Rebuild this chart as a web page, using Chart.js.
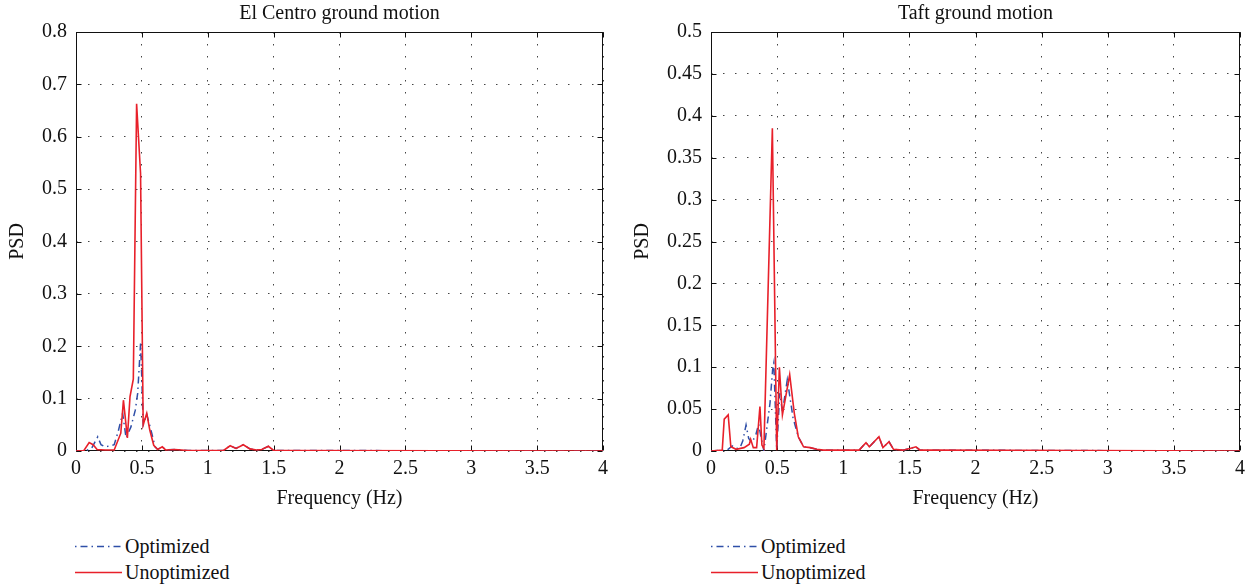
<!DOCTYPE html>
<html>
<head>
<meta charset="utf-8">
<script src="https://cdn.jsdelivr.net/npm/chart.js@4/dist/chart.umd.min.js"></script>
<style>
    body { margin: 0; background: #fff; width: 1254px; height: 588px; position: relative; overflow: hidden;
           font-family: 'Liberation Serif', 'DejaVu Serif', serif; color: #111; }
    .panel { position: absolute; top: 0; }
    .legend { position: absolute; font-size: 20px; }
    .legend .item { position: absolute; left: 0; white-space: nowrap; height: 26px; line-height: 26px; }
    .legend svg { position: absolute; left: 0; top: 12px; }
    .legend span { position: absolute; left: 50px; top: 0; }
</style>
</head>
<body>
<canvas id="elCentroChart" class="panel" width="630" height="520" style="left:0"></canvas>
<canvas id="taftChart" class="panel" width="623" height="520" style="left:631px"></canvas>

<div class="legend" style="left:75px;top:533px">
    <div class="item" style="top:0"><svg width="48" height="3"><line x1="0" y1="1.5" x2="47" y2="1.5" stroke="#2f4fa8" stroke-width="1.5" stroke-dasharray="1.5,4,7,4"/></svg><span>Optimized</span></div>
    <div class="item" style="top:26px"><svg width="48" height="3"><line x1="0" y1="1.5" x2="47" y2="1.5" stroke="#e8202a" stroke-width="1.6"/></svg><span>Unoptimized</span></div>
</div>
<div class="legend" style="left:711px;top:533px">
    <div class="item" style="top:0"><svg width="48" height="3"><line x1="0" y1="1.5" x2="47" y2="1.5" stroke="#2f4fa8" stroke-width="1.5" stroke-dasharray="1.5,4,7,4"/></svg><span>Optimized</span></div>
    <div class="item" style="top:26px"><svg width="48" height="3"><line x1="0" y1="1.5" x2="47" y2="1.5" stroke="#e8202a" stroke-width="1.6"/></svg><span>Unoptimized</span></div>
</div>

<script>
'use strict';

// Tick labels
const freqTicks = [0, 0.5, 1, 1.5, 2, 2.5, 3, 3.5, 4];
const elCentroTicks = [0, 0.1, 0.2, 0.3, 0.4, 0.5, 0.6, 0.7, 0.8];
const taftTicks = [0, 0.05, 0.1, 0.15, 0.2, 0.25, 0.3, 0.35, 0.4, 0.45, 0.5];

// El Centro - unoptimized (red)
const elCentroUnoptFreq = [0, 0.06, 0.10, 0.13, 0.16, 0.22, 0.29, 0.34, 0.36, 0.39, 0.41, 0.435, 0.46, 0.49, 0.51, 0.537, 0.56, 0.59, 0.62, 0.655, 0.68, 0.75, 0.80, 0.85, 1.0, 1.12, 1.17, 1.215, 1.27, 1.32, 1.37, 1.41, 1.46, 1.50, 1.6, 4];
const elCentroUnopt = [0, 0.001, 0.016, 0.012, 0.003, 0.002, 0.002, 0.034, 0.097, 0.025, 0.104, 0.137, 0.663, 0.53, 0.05, 0.072, 0.04, 0.011, 0.003, 0.008, 0.002, 0.003, 0.002, 0.001, 0.001, 0.001, 0.010, 0.005, 0.012, 0.004, 0.002, 0.003, 0.009, 0.001, 0.001, 0];

// El Centro - optimized (blue)
const elCentroOptFreq = [0, 0.08, 0.12, 0.165, 0.19, 0.22, 0.26, 0.29, 0.32, 0.354, 0.38, 0.417, 0.45, 0.468, 0.49, 0.50, 0.51, 0.537, 0.575, 0.60, 0.62, 0.655, 0.68, 0.75, 0.80, 0.85, 1.0, 1.12, 1.17, 1.215, 1.27, 1.32, 1.37, 1.41, 1.46, 1.50, 1.6, 4];
const elCentroOpt = [0, 0.001, 0.006, 0.027, 0.012, 0.008, 0.01, 0.012, 0.037, 0.072, 0.025, 0.046, 0.078, 0.11, 0.205, 0.135, 0.05, 0.07, 0.034, 0.008, 0.003, 0.008, 0.002, 0.003, 0.002, 0.001, 0.001, 0.001, 0.010, 0.005, 0.012, 0.004, 0.002, 0.003, 0.009, 0.001, 0.001, 0];

// Taft - unoptimized (red)
const taftUnoptFreq = [0, 0.085, 0.10, 0.13, 0.15, 0.19, 0.25, 0.29, 0.30, 0.32, 0.345, 0.37, 0.385, 0.40, 0.464, 0.497, 0.517, 0.54, 0.595, 0.63, 0.66, 0.70, 0.75, 0.80, 0.85, 1.0, 1.12, 1.172, 1.197, 1.27, 1.30, 1.346, 1.38, 1.45, 1.505, 1.55, 1.58, 1.7, 4];
const taftUnopt = [0, 0.001, 0.038, 0.043, 0.005, 0.002, 0.004, 0.008, 0.014, 0.004, 0.004, 0.053, 0.007, 0.003, 0.385, 0.001, 0.100, 0.043, 0.091, 0.045, 0.017, 0.005, 0.004, 0.002, 0.001, 0.001, 0.001, 0.010, 0.005, 0.017, 0.004, 0.011, 0.002, 0.001, 0.003, 0.005, 0.001, 0.001, 0];

// Taft - optimized (blue)
const taftOptFreq = [0, 0.10, 0.13, 0.16, 0.19, 0.22, 0.24, 0.265, 0.285, 0.31, 0.34, 0.36, 0.38, 0.40, 0.446, 0.466, 0.475, 0.497, 0.52, 0.54, 0.577, 0.62, 0.66, 0.70, 0.75, 0.80, 0.85, 1.0, 1.12, 1.172, 1.197, 1.27, 1.30, 1.346, 1.38, 1.45, 1.505, 1.55, 1.58, 1.7, 4];
const taftOpt = [0, 0.001, 0.002, 0.006, 0.003, 0.004, 0.012, 0.031, 0.015, 0.01, 0.02, 0.032, 0.015, 0.0, 0.057, 0.097, 0.105, 0.002, 0.069, 0.047, 0.085, 0.04, 0.017, 0.005, 0.004, 0.002, 0.001, 0.001, 0.001, 0.010, 0.005, 0.017, 0.004, 0.011, 0.002, 0.001, 0.003, 0.005, 0.001, 0.001, 0];

const RED = '#e8202a';
const BLUE = '#2f4fa8';
const FONT = "'Liberation Serif', 'DejaVu Serif', serif";

// Box around plot + inward tick marks (MATLAB style)
const frameBox = {
    id: 'frameBox',
    beforeDatasetsDraw(chart) {
        const { ctx, chartArea: a, scales: { x, y } } = chart;
        const L = Math.round(a.left) + 0.5, R = Math.round(a.right) - 0.5;
        const T = Math.round(a.top) + 0.5, B = Math.round(a.bottom) - 0.5;
        ctx.save();
        ctx.strokeStyle = '#111';
        ctx.lineWidth = 1;
        ctx.strokeRect(L, T, R - L, B - T);
        ctx.beginPath();
        x.ticks.forEach(t => {
            const px = Math.round(x.getPixelForValue(t.value)) + 0.5;
            ctx.moveTo(px, B); ctx.lineTo(px, B - 5);
            ctx.moveTo(px, T); ctx.lineTo(px, T + 5);
        });
        y.ticks.forEach(t => {
            const py = Math.round(y.getPixelForValue(t.value)) + 0.5;
            ctx.moveTo(L, py); ctx.lineTo(L + 5, py);
            ctx.moveTo(R, py); ctx.lineTo(R - 5, py);
        });
        ctx.stroke();
        ctx.restore();
    }
};

function toPoints(xs, ys) {
    return xs.map((f, i) => ({ x: f, y: ys[i] }));
}

function makeChart(id, title, yTicks, optFreq, opt, unoptFreq, unopt, padRight, yWidth, yTitlePad) {
    const yMax = yTicks[yTicks.length - 1];
    return new Chart(document.getElementById(id), {
        type: 'line',
        data: {
            datasets: [
                {
                    label: 'Unoptimized',
                    data: toPoints(unoptFreq, unopt),
                    borderColor: RED,
                    borderWidth: 1.6,
                    pointRadius: 0,
                    tension: 0,
                    fill: false,
                },
                {
                    label: 'Optimized',
                    data: toPoints(optFreq, opt),
                    borderColor: BLUE,
                    borderWidth: 1.5,
                    borderDash: [7, 4, 1.5, 4],
                    pointRadius: 0,
                    tension: 0,
                    fill: false,
                }
            ]
        },
        options: {
            responsive: false,
            animation: false,
            layout: { padding: { left: 0, right: padRight, top: 0, bottom: 0 } },
            plugins: {
                legend: { display: false },
                tooltip: { enabled: false },
                title: {
                    display: true,
                    text: title,
                    fullSize: false,
                    color: '#111',
                    font: { family: FONT, size: 20, weight: 'normal' },
                    padding: { top: 2, bottom: 6 }
                }
            },
            scales: {
                x: {
                    type: 'linear',
                    min: 0, max: 4,
                    afterBuildTicks: s => { s.ticks = freqTicks.map(v => ({ value: v })); },
                    afterFit: s => { s.height = 69; },
                    border: { display: false, dash: [1.5, 10.5] },
                    grid: { color: '#444', lineWidth: 1, drawTicks: false },
                    ticks: {
                        autoSkip: false, maxRotation: 0, padding: 6, color: '#111',
                        font: { family: FONT, size: 20 },
                        callback: v => String(v)
                    },
                    title: {
                        display: true, text: 'Frequency (Hz)', color: '#111',
                        font: { family: FONT, size: 20 },
                        padding: { top: 0, bottom: 9 }
                    }
                },
                y: {
                    type: 'linear',
                    min: 0, max: yMax,
                    afterBuildTicks: s => { s.ticks = yTicks.map(v => ({ value: v })); },
                    afterFit: s => { s.width = yWidth; },
                    border: { display: false, dash: [1.5, 10.5] },
                    grid: { color: '#444', lineWidth: 1, drawTicks: false },
                    ticks: {
                        autoSkip: false, padding: 9, color: '#111',
                        font: { family: FONT, size: 20 },
                        callback: v => String(v)
                    },
                    title: {
                        display: true, text: 'PSD', color: '#111',
                        font: { family: FONT, size: 20 },
                        padding: { top: yTitlePad, bottom: 0 }
                    }
                }
            }
        },
        plugins: [frameBox]
    });
}

makeChart('elCentroChart', 'El Centro ground motion', elCentroTicks,
    elCentroOptFreq, elCentroOpt, elCentroUnoptFreq, elCentroUnopt, 27, 76, 6);
makeChart('taftChart', 'Taft ground motion', taftTicks,
    taftOptFreq, taftOpt, taftUnoptFreq, taftUnopt, 14, 80, 0);
</script>
</body>
</html>
